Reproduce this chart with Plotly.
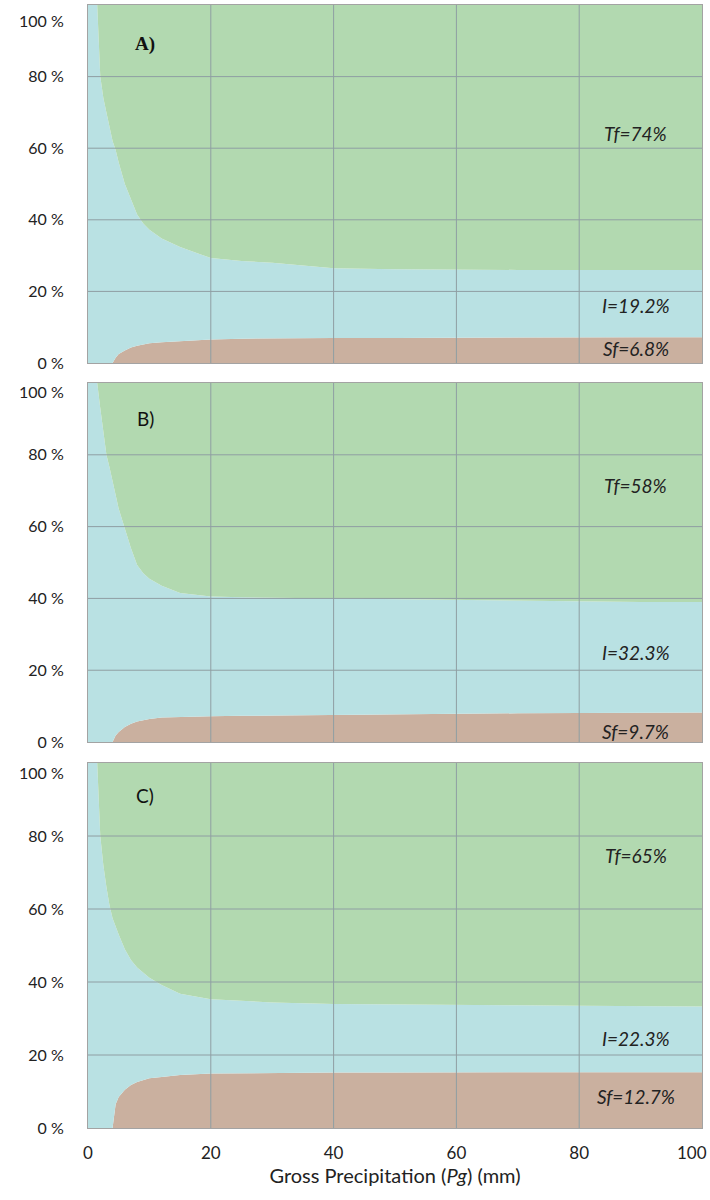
import plotly.graph_objects as go
from plotly.subplots import make_subplots

# Gross precipitation (mm) sampling points shared by all three stands
PG = [0, 1, 1.5, 2, 2.5, 3, 3.5, 4, 4.5, 5, 6, 7, 8, 9, 10, 12, 15, 20,
      25, 30, 40, 50, 60, 70, 80, 90, 100]

# Stand A: stemflow, interception, throughfall (% of Pg)
SF_A = [0, 0, 0, 0, 0, 0, 0, 0, 1.5, 2.5, 3.5, 4.3, 4.8, 5.2, 5.5, 5.8, 6.1, 6.6,
        6.8, 6.9, 7.0, 7.0, 7.1, 7.1, 7.2, 7.2, 7.2]
I_A = [100, 100, 100, 80, 74, 70, 66, 62, 58, 53.5, 46.5, 41.2, 36.7, 33.8, 31.7,
       29.0, 26.3, 22.7, 21.7, 21.1, 19.5, 19.2, 18.9, 18.9, 18.8, 18.8, 18.8]
TF_A = [0, 0, 0, 20, 26, 30, 34, 38, 40.5, 44, 50, 54.5, 58.5, 61, 62.8, 65.2,
        67.6, 70.7, 71.5, 72, 73.5, 73.8, 74, 74, 74, 74, 74]

# Stand B
SF_B = [0, 0, 0, 0, 0, 0, 0, 0, 1.8, 2.8, 4.2, 5.1, 5.7, 6.1, 6.4, 6.8, 7.0, 7.2,
        7.3, 7.4, 7.6, 7.8, 7.9, 8.0, 8.1, 8.2, 8.2]
I_B = [100, 100, 100, 93, 87, 80, 76.5, 72.5, 66.7, 62.2, 55.3, 48.9, 43.6, 40.9,
       39.1, 36.7, 34.5, 33.3, 33.0, 32.8, 32.4, 32.0, 31.6, 31.3, 30.9, 30.8, 30.8]
TF_B = [0, 0, 0, 7, 13, 20, 23.5, 27.5, 31.5, 35, 40.5, 46, 50.7, 53, 54.5, 56.5,
        58.5, 59.5, 59.7, 59.8, 60, 60.2, 60.5, 60.7, 61, 61, 61]

# Stand C
SF_C = [0, 0, 0, 0, 0, 0, 0, 0, 6.5, 8.5, 10.5, 11.8, 12.6, 13.2, 13.6, 14.0,
        14.5, 14.9, 15.0, 15.1, 15.2, 15.2, 15.3, 15.3, 15.3, 15.3, 15.3]
I_C = [100, 100, 100, 80, 72, 66, 61, 57.5, 48.5, 44.5, 38.5, 34.2, 31.4, 29.3,
       27.6, 25.2, 22.3, 20.4, 19.8, 19.3, 18.8, 18.6, 18.4, 18.3, 18.2, 18.1, 18.0]
TF_C = [0, 0, 0, 20, 28, 34, 39, 42.5, 45, 47, 51, 54, 56, 57.5, 58.8, 60.8,
        63.2, 64.7, 65.2, 65.6, 66, 66.2, 66.3, 66.4, 66.5, 66.6, 66.7]

PANELS = ["A)", "B)", "C)"]
SERIES = [(SF_A, I_A, TF_A), (SF_B, I_B, TF_B), (SF_C, I_C, TF_C)]
LABELS = [("Tf=74%", "I=19.2%", "Sf=6.8%"),
          ("Tf=58%", "I=32.3%", "Sf=9.7%"),
          ("Tf=65%", "I=22.3%", "Sf=12.7%")]
LABEL_Y = [(64, 16, 4), (71.4, 25, 3), (74.6, 24.5, 8.5)]
LETTER_Y = [89, 90, 91]

X_TICKS = [0, 20, 40, 60, 80, 100]
X_TEXT = ["0", "20", "40", "60", "80", "100"]
Y_TICKS = [0, 20, 40, 60, 80, 100]
Y_TEXT = ["0 %", "20 %", "40 %", "60 %", "80 %", "100 %"]
# the top tick label sits a little inside each panel
TOP_LABEL_SHIFT = [-15, -8, -9]

COL_SF = "#cab09f"
COL_I = "#b9e1e3"
COL_TF = "#b2d9b0"
GRID = "#8f9ea3"
FONT = "Lato"
TICK_FONT = dict(family=FONT, size=16, color="#222")

DOMAINS = [[0.6812, 1.0], [0.3437, 0.6634], [0.0, 0.3250]]

fig = make_subplots(rows=3, cols=1, shared_xaxes=True, vertical_spacing=0.02)

for r, (sf, i_, tf) in enumerate(SERIES, start=1):
    grp = f"g{r}"
    for name, vals, col in (("Sf", sf, COL_SF), ("I", i_, COL_I), ("Tf", tf, COL_TF)):
        fig.add_trace(go.Scatter(x=PG, y=vals, name=name, stackgroup=grp,
                                 mode="lines", line=dict(width=0, color=col),
                                 fillcolor=col, showlegend=False,
                                 hoverinfo="skip"), row=r, col=1)

    xa = "x" if r == 1 else f"x{r}"
    ya = "y" if r == 1 else f"y{r}"
    # gridlines above the filled areas
    for t in X_TICKS[1:-1]:
        fig.add_shape(type="line", xref=xa, yref=f"{ya} domain", x0=t, x1=t,
                      y0=0, y1=1, line=dict(color=GRID, width=1), layer="above")
    for t in Y_TICKS[1:-1]:
        fig.add_shape(type="line", xref=f"{xa} domain", yref=ya, x0=0, x1=1,
                      y0=t, y1=t, line=dict(color=GRID, width=1), layer="above")

    letter_font = (dict(family="Liberation Serif", size=19, color="#111")
                   if r == 1 else dict(family=FONT, size=19, color="#111"))
    txt = f"<b>{PANELS[r-1]}</b>" if r == 1 else PANELS[r-1]
    fig.add_annotation(x=9.3, y=LETTER_Y[r-1], xref=xa, yref=ya, text=txt,
                       showarrow=False, font=letter_font)
    for lab, ly in zip(LABELS[r-1], LABEL_Y[r-1]):
        fig.add_annotation(x=89.2, y=ly, xref=xa, yref=ya, text=f"<i>{lab}</i>",
                           showarrow=False,
                           font=dict(family=FONT, size=19, color="#222"))

    # top "100 %" label placed just inside the panel top
    fig.add_annotation(x=0, y=Y_TICKS[-1], xref=f"{xa} domain", yref=ya,
                       text=Y_TEXT[-1], showarrow=False, xanchor="right",
                       xshift=-22, yshift=TOP_LABEL_SHIFT[r-1], font=TICK_FONT)

    fig.update_yaxes(row=r, col=1, range=[0, 100], tickvals=Y_TICKS[:-1],
                     ticktext=Y_TEXT[:-1], showgrid=False, zeroline=False,
                     showline=True, mirror=True, linecolor="#a3a3a3",
                     linewidth=1, ticks="outside", ticklen=20,
                     tickcolor="rgba(0,0,0,0)", automargin=False,
                     tickfont=TICK_FONT, domain=DOMAINS[r-1])
    fig.update_xaxes(row=r, col=1, range=[0, 100], tickvals=X_TICKS[:-1],
                     ticktext=X_TEXT[:-1], automargin=False,
                     showgrid=False, zeroline=False, showline=True, mirror=True,
                     linecolor="#a3a3a3", linewidth=1,
                     showticklabels=(r == 3), ticks="outside" if r == 3 else "",
                     ticklen=10, tickcolor="rgba(0,0,0,0)",
                     tickfont=dict(family=FONT, size=17, color="#222"))

# last x tick label, kept inside the page edge
fig.add_annotation(x=X_TICKS[-1], y=0, xref="x3", yref="y3", text=X_TEXT[-1],
                   showarrow=False, xanchor="right", yanchor="top",
                   xshift=7, yshift=-12,
                   font=dict(family=FONT, size=17, color="#222"))

fig.update_xaxes(row=3, col=1,
                 title=dict(text="Gross Precipitation (<i>Pg</i>) (mm)",
                            font=dict(family=FONT, size=20, color="#222"),
                            standoff=6))

fig.update_layout(width=710, height=1200,
                  margin=dict(l=88, r=8, t=5, b=72),
                  paper_bgcolor="white", plot_bgcolor="white",
                  showlegend=False)

fig.write_html("out.html")
